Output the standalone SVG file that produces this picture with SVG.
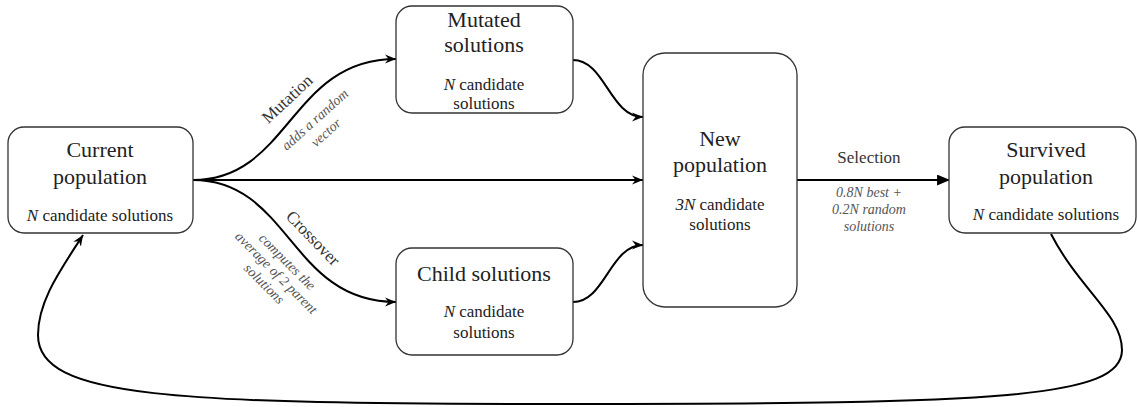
<svg xmlns="http://www.w3.org/2000/svg" width="1137" height="407" viewBox="0 0 1137 407">
<style>
.box{fill:#fff;stroke:#333;stroke-width:1.3}
.t{font-family:"Liberation Serif","Times New Roman",serif;fill:#222;text-anchor:middle}
.ti{font-size:22px}
.sub{font-size:17px}
.lbl{font-size:17px;fill:#333}
.it{font-size:14px;font-style:italic;fill:#555}
.c{fill:none;stroke:#000;stroke-width:2}
</style>
<defs>
<marker id="ah" viewBox="0 0 12 10" refX="11" refY="5" markerWidth="12" markerHeight="10" markerUnits="userSpaceOnUse" orient="auto">
<path d="M0,0.5 L11,5 L0,9.5 L3.5,5 z" fill="#000"/>
</marker>
<marker id="tri" viewBox="0 0 12 10" refX="11" refY="5" markerWidth="13" markerHeight="11" markerUnits="userSpaceOnUse" orient="auto">
<path d="M0,0 L12,5 L0,10 z" fill="#000"/>
</marker>
</defs>
<g id="connectors">
<path class="c" d="M193,180 C290,180 290,59 396,59" marker-end="url(#ah)"/>
<path class="c" d="M193,180 C290,180 290,302 396,302" marker-end="url(#ah)"/>
<path class="c" d="M193,180 L643,180" marker-end="url(#ah)"/>
<path class="c" d="M573,60 C605,60 610,117 643,117" marker-end="url(#ah)"/>
<path class="c" d="M573,302 C605,302 610,245 643,245" marker-end="url(#ah)"/>
<path class="c" d="M797,180 L949,180" marker-end="url(#tri)"/>
<path class="c" d="M1051,234 C1080,290 1122,315 1122,350 C1122,398 1000,404 570,404 C170,404 38,398 38,335 C38,300 62,268 83,235" marker-end="url(#ah)"/>
<text class="t lbl" transform="translate(291,103) rotate(-43)">Mutation</text>
<text class="t it" transform="translate(318,123) rotate(-42)">adds a random</text>
<text class="t it" transform="translate(329,136) rotate(-42)">vector</text>
<text class="t lbl" transform="translate(309,242) rotate(46)">Crossover</text>
<text class="t it" transform="translate(284,265) rotate(45)">computes the</text>
<text class="t it" transform="translate(273,276) rotate(45)">average of 2 parent</text>
<text class="t it" transform="translate(261,287) rotate(45)">solutions</text>
<text class="t lbl" x="869" y="163">Selection</text>
<text class="t it" x="869" y="197">0.8N best +</text>
<text class="t it" x="869" y="214">0.2N random</text>
<text class="t it" x="869" y="231">solutions</text>
</g>
<g id="current">
<rect class="box" x="8" y="127" width="185" height="106" rx="16"/>
<text class="t ti" x="100" y="157">Current</text>
<text class="t ti" x="100" y="184">population</text>
<text class="t sub" x="100" y="221"><tspan font-style="italic">N</tspan> candidate solutions</text>
</g>
<g id="mutated">
<rect class="box" x="396" y="6" width="177" height="107" rx="16"/>
<text class="t ti" x="484" y="27">Mutated</text>
<text class="t ti" x="484" y="52">solutions</text>
<text class="t sub" x="484" y="90"><tspan font-style="italic">N</tspan> candidate</text>
<text class="t sub" x="484" y="109">solutions</text>
</g>
<g id="child">
<rect class="box" x="396" y="248" width="177" height="107" rx="16"/>
<text class="t ti" x="484" y="281">Child solutions</text>
<text class="t sub" x="484" y="317"><tspan font-style="italic">N</tspan> candidate</text>
<text class="t sub" x="484" y="338">solutions</text>
</g>
<g id="newpop">
<rect class="box" x="643" y="53" width="154" height="254" rx="22"/>
<text class="t ti" x="720" y="146">New</text>
<text class="t ti" x="720" y="172">population</text>
<text class="t sub" x="720" y="210"><tspan font-style="italic">3N</tspan> candidate</text>
<text class="t sub" x="720" y="230">solutions</text>
</g>
<g id="survived">
<rect class="box" x="949" y="127" width="187" height="106" rx="16"/>
<text class="t ti" x="1046" y="157">Survived</text>
<text class="t ti" x="1046" y="184">population</text>
<text class="t sub" x="1046" y="220"><tspan font-style="italic">N</tspan> candidate solutions</text>
</g>
</svg>
